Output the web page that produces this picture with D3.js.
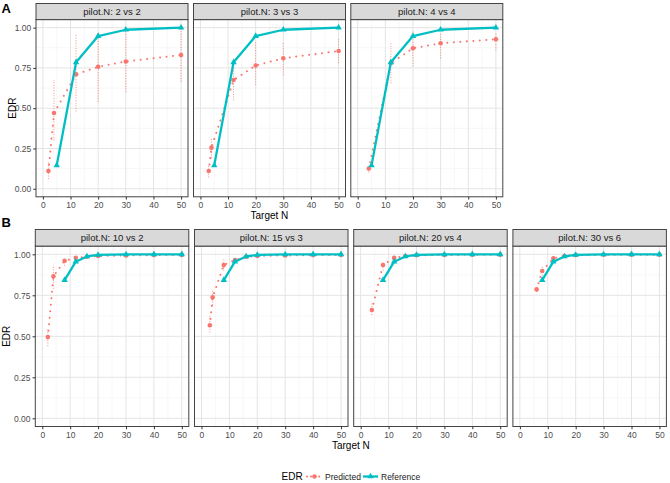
<!DOCTYPE html>
<html><head><meta charset="utf-8">
<script src="https://cdn.jsdelivr.net/npm/d3@7"></script>
<style>body{margin:0;background:#fff}svg{display:block;font-family:"Liberation Sans",Arial,sans-serif}</style>
</head><body><svg id="c" width="670" height="483"></svg>
<script>
// ---- data ----
const stripsA = ["pilot.N: 2 vs 2", "pilot.N: 3 vs 3", "pilot.N: 4 vs 4"];
const stripsB = ["pilot.N: 10 vs 2", "pilot.N: 15 vs 3", "pilot.N: 20 vs 4", "pilot.N: 30 vs 6"];
const xTicks = [0, 10, 20, 30, 40, 50];
const yTicks = [0, 0.25, 0.5, 0.75, 1];
const yTickLabels = ["0.00", "0.25", "0.50", "0.75", "1.00"];

const refA_N = [5, 12, 20, 30, 50];
const refA_EDR = [0.145, 0.785, 0.948, 0.987, 1.0];
const refB_N = [8, 12, 16, 20, 30, 40, 50];
const refB_EDR = [0.843, 0.955, 0.987, 0.996, 0.999, 1.0, 1.0];

const predA1_N = [2, 4, 12, 20, 30, 50];
const predA1_EDR = [0.11, 0.47, 0.71, 0.757, 0.79, 0.83];
const predA1_lo = [0.06, 0.30, 0.48, 0.54, 0.60, 0.665];
const predA1_hi = [0.17, 0.675, 0.955, 0.97, 0.985, 1.0];

const predA2_N = [3, 4, 12, 20, 30, 50];
const predA2_EDR = [0.11, 0.255, 0.675, 0.765, 0.81, 0.855];
const predA2_lo = [0.07, 0.19, 0.55, 0.645, 0.705, 0.78];
const predA2_hi = [0.15, 0.32, 0.80, 0.91, 0.91, 0.93];

const predA3_N = [4, 12, 20, 30, 50];
const predA3_EDR = [0.125, 0.78, 0.872, 0.903, 0.928];
const predA3_lo = [0.10, 0.655, 0.76, 0.81, 0.86];
const predA3_hi = [0.15, 0.905, 0.985, 0.965, 0.965];

const predB1_N = [2, 4, 8, 12, 16, 20, 30, 40, 50];
const predB1_EDR = [0.495, 0.866, 0.96, 0.978, 0.985, 0.99, 0.993, 0.995, 0.996];
const predB1_lo = [0.44, 0.79, 0.93, 0.965, 0.978, 0.985, 0.99, 0.99, 0.993];
const predB1_hi = [0.55, 0.935, 0.978, 0.99, 0.992, 0.995, 0.997, 0.998, 0.999];

const predB2_N = [3, 4, 8, 12, 16, 20, 30, 40, 50];
const predB2_EDR = [0.567, 0.738, 0.935, 0.965, 0.985, 0.99, 0.993, 0.995, 0.996];
const predB2_lo = [0.524, 0.69, 0.90, 0.955, 0.978, 0.985, 0.99, 0.99, 0.993];
const predB2_hi = [0.624, 0.787, 0.976, 0.978, 0.992, 0.995, 0.997, 0.998, 0.999];

const predB3_N = [4, 8, 12, 16, 20, 30, 40, 50];
const predB3_EDR = [0.66, 0.935, 0.978, 0.99, 0.994, 0.996, 0.997, 0.998];
const predB3_lo = [0.63, 0.90, 0.965, 0.985, 0.99, 0.993, 0.995, 0.996];
const predB3_hi = [0.71, 0.95, 0.988, 0.995, 0.997, 0.998, 0.999, 0.999];

const predB4_N = [6, 8, 12, 16, 20, 30, 40, 50];
const predB4_EDR = [0.786, 0.898, 0.975, 0.99, 0.995, 0.997, 0.998, 0.998];
const predB4_lo = [0.77, 0.87, 0.965, 0.985, 0.99, 0.993, 0.995, 0.996];
const predB4_hi = [0.80, 0.93, 0.985, 0.995, 0.998, 0.999, 0.999, 0.999];

const legendTitle = "EDR";
const legendLabels = ["Predicted", "Reference"];

// ---- styling ----
const RED = "#F8766D", TEAL = "#00BFC4";
const zip = (N, E, L, H) => N.map((n, i) => ({n, e: E[i], lo: L ? L[i] : null, hi: H ? H[i] : null}));

const svg = d3.select("#c");

function panel(x0, w, sy0, py0, py1, label, pred, ref, showY, yTitleX) {
  const g = svg.append("g");
  const x = d3.scaleLinear().domain([-2.5, 52.5]).range([x0, x0 + w]);
  const y = d3.scaleLinear().domain([-0.05, 1.05]).range([py1, py0]);
  g.append("rect").attr("x", x0).attr("y", py0).attr("width", w).attr("height", py1 - py0).attr("fill", "#fff");
  const minorX = [5, 15, 25, 35, 45], minorY = [0.125, 0.375, 0.625, 0.875];
  g.selectAll(".mx").data(minorX).enter().append("line")
    .attr("x1", d => x(d)).attr("x2", d => x(d)).attr("y1", py0).attr("y2", py1)
    .attr("stroke", "#F2F2F2").attr("stroke-width", 0.6);
  g.selectAll(".my").data(minorY).enter().append("line")
    .attr("y1", d => y(d)).attr("y2", d => y(d)).attr("x1", x0).attr("x2", x0 + w)
    .attr("stroke", "#F2F2F2").attr("stroke-width", 0.6);
  g.selectAll(".gx").data(xTicks).enter().append("line")
    .attr("x1", d => x(d)).attr("x2", d => x(d)).attr("y1", py0).attr("y2", py1)
    .attr("stroke", "#E4E4E4").attr("stroke-width", 1);
  g.selectAll(".gy").data(yTicks).enter().append("line")
    .attr("y1", d => y(d)).attr("y2", d => y(d)).attr("x1", x0).attr("x2", x0 + w)
    .attr("stroke", "#E4E4E4").attr("stroke-width", 1);

  g.selectAll(".eb").data(pred).enter().append("line")
    .attr("x1", d => x(d.n)).attr("x2", d => x(d.n)).attr("y1", d => y(d.lo)).attr("y2", d => y(d.hi))
    .attr("stroke", RED).attr("stroke-width", 1).attr("stroke-dasharray", "1 1.6").attr("opacity", 0.8);
  const line = d3.line().x(d => x(d.n)).y(d => y(d.e));
  g.append("path").datum(pred).attr("d", line).attr("fill", "none")
    .attr("stroke", RED).attr("stroke-width", 2).attr("stroke-linecap", "round").attr("stroke-dasharray", "0.01 6.5");
  g.selectAll(".pp").data(pred).enter().append("circle")
    .attr("cx", d => x(d.n)).attr("cy", d => y(d.e)).attr("r", 2.3).attr("fill", RED);
  g.append("path").datum(ref).attr("d", line).attr("fill", "none")
    .attr("stroke", TEAL).attr("stroke-width", 2.3).attr("stroke-linejoin", "round");
  const tri = d3.symbol().type(d3.symbolTriangle).size(18);
  g.selectAll(".rp").data(ref).enter().append("path")
    .attr("d", tri).attr("transform", d => `translate(${x(d.n)},${y(d.e)})`).attr("fill", TEAL);

  g.append("rect").attr("x", x0).attr("y", py0).attr("width", w).attr("height", py1 - py0)
    .attr("fill", "none").attr("stroke", "#444").attr("stroke-width", 1);
  g.append("rect").attr("x", x0).attr("y", sy0).attr("width", w).attr("height", py0 - sy0)
    .attr("fill", "#D9D9D9").attr("stroke", "#444").attr("stroke-width", 1);
  g.append("text").attr("x", x0 + w / 2).attr("y", (sy0 + py0) / 2 + 3.3).attr("text-anchor", "middle")
    .attr("font-size", 9.5).attr("fill", "#1a1a1a").text(label);

  const xa = g.append("g").attr("transform", `translate(0,${py1})`)
    .call(d3.axisBottom(x).tickValues(xTicks).tickSize(2.75).tickPadding(2.5).tickFormat(d3.format("d")));
  xa.select(".domain").remove();
  xa.selectAll("line").attr("stroke", "#333");
  xa.selectAll("text").attr("font-size", 8.5).attr("fill", "#4d4d4d").attr("font-family", "Liberation Sans, Arial, sans-serif");
  if (showY) {
    const ya = g.append("g").attr("transform", `translate(${x0},0)`)
      .call(d3.axisLeft(y).tickValues(yTicks).tickSize(2.75).tickPadding(2).tickFormat((d, i) => yTickLabels[i]));
    ya.select(".domain").remove();
    ya.selectAll("line").attr("stroke", "#333");
    ya.selectAll("text").attr("font-size", 8.5).attr("fill", "#4d4d4d").attr("font-family", "Liberation Sans, Arial, sans-serif");
    svg.append("text").attr("transform", `translate(${yTitleX},${(py0 + py1) / 2}) rotate(-90)`)
      .attr("text-anchor", "middle").attr("font-size", 10).attr("fill", "#000").text("EDR");
  }
}

// Row A
const predA = [zip(predA1_N, predA1_EDR, predA1_lo, predA1_hi), zip(predA2_N, predA2_EDR, predA2_lo, predA2_hi), zip(predA3_N, predA3_EDR, predA3_lo, predA3_hi)];
const refA = zip(refA_N, refA_EDR);
const leftsA = [36, 193.5, 350.8];
stripsA.forEach((s, i) => panel(leftsA[i], 152, 3.5, 19.6, 196.8, s, predA[i], refA, i === 0, 15.5));
svg.append("text").attr("x", (36 + 350.8 + 152) / 2).attr("y", 218.5).attr("text-anchor", "middle")
  .attr("font-size", 10).text("Target N");

// Row B
const predB = [zip(predB1_N, predB1_EDR, predB1_lo, predB1_hi), zip(predB2_N, predB2_EDR, predB2_lo, predB2_hi),
  zip(predB3_N, predB3_EDR, predB3_lo, predB3_hi), zip(predB4_N, predB4_EDR, predB4_lo, predB4_hi)];
const refB = zip(refB_N, refB_EDR);
const leftsB = [35.3, 194.5, 353.7, 512.9];
stripsB.forEach((s, i) => panel(leftsB[i], 153.5, 229.5, 246.1, 426.5, s, predB[i], refB, i === 0, 10));
svg.append("text").attr("x", (35.3 + 512.9 + 153.5) / 2).attr("y", 449).attr("text-anchor", "middle")
  .attr("font-size", 10).text("Target N");

svg.append("text").attr("x", 1.5).attr("y", 13).attr("font-size", 13).attr("font-weight", "bold").text("A");
svg.append("text").attr("x", 1.5).attr("y", 227).attr("font-size", 13).attr("font-weight", "bold").text("B");

// legend
const ly = 476.5;
const lg = svg.append("g");
lg.append("text").attr("x", 281.5).attr("y", ly + 3.5).attr("font-size", 10).text(legendTitle);
lg.append("line").attr("x1", 307).attr("x2", 322).attr("y1", ly).attr("y2", ly)
  .attr("stroke", RED).attr("stroke-width", 2).attr("stroke-linecap", "round").attr("stroke-dasharray", "0.01 4");
lg.append("circle").attr("cx", 314.5).attr("cy", ly).attr("r", 2.3).attr("fill", RED);
lg.append("text").attr("x", 325).attr("y", ly + 3).attr("font-size", 8.5).attr("fill", "#1a1a1a").text(legendLabels[0]);
lg.append("line").attr("x1", 363).attr("x2", 378).attr("y1", ly).attr("y2", ly)
  .attr("stroke", TEAL).attr("stroke-width", 2.3);
lg.append("path").attr("d", d3.symbol().type(d3.symbolTriangle).size(18)).attr("transform", `translate(370.5,${ly})`).attr("fill", TEAL);
lg.append("text").attr("x", 381).attr("y", ly + 3).attr("font-size", 8.5).attr("fill", "#1a1a1a").text(legendLabels[1]);
</script></body></html>
